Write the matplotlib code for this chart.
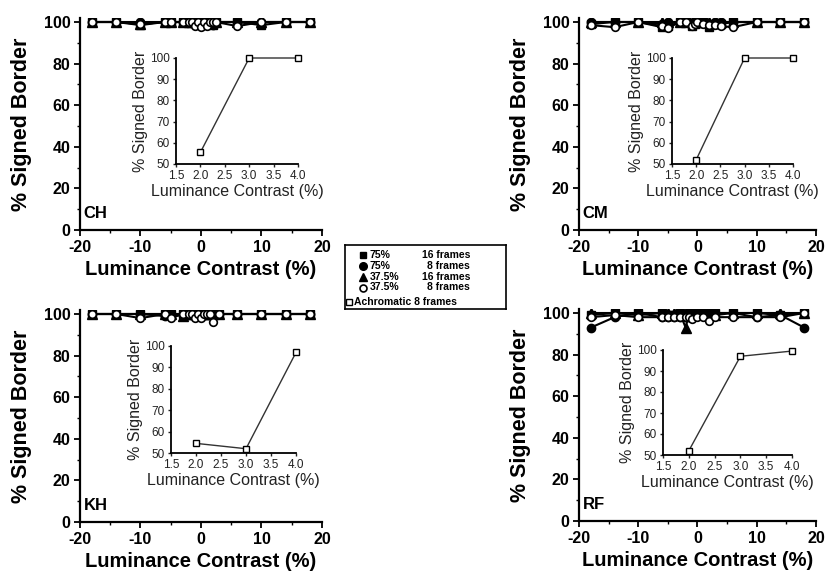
import matplotlib
matplotlib.use("Agg")
import matplotlib.pyplot as plt
from matplotlib.ticker import MultipleLocator

plt.rcParams['font.family'] = ['Liberation Sans', 'DejaVu Sans']
plt.rcParams['axes.unicode_minus'] = False

W, H = 828, 577

# ---------------- data ----------------
subjects = ["CH", "CM", "KH", "RF"]

ch_x = [-18, -14, -10, -6, -5, -3, -2, -1.5, -1, -0.5, 0, 0.5, 1, 1.5, 2, 2.5, 6, 10, 14, 18]
ch_sq16 = [100, 100, 98.5, 100, 100, 100, 100, 100, 100, 100, 99, 100, 100, 100, 98.5, 100, 100, 98.5, 100, 100]
ch_ci8 = [100, 100, 100, 100, 100, 100, 100, 100, 100, 100, 98.5, 100, 100, 100, 98.5, 100, 100, 100, 100, 100]
ch_tr16 = [100, 100, 99, 100, 100, 100, 100, 100, 100, 100, 100, 100, 100, 100, 100, 100, 100, 100, 100, 100]
ch_oc8 = [100, 100, 99, 100, 100, 100, 100, 100, 98, 100, 97.5, 100, 98, 100, 100, 100, 98, 100, 100, 100]

cm_x = [-18, -14, -10, -6, -5, -3, -2, -1, -0.5, 0, 1, 2, 3, 4, 6, 10, 14, 18]
cm_sq16 = [99, 100, 100, 97.5, 98, 100, 100, 98, 99, 100, 100, 97.5, 99, 99, 100, 100, 100, 100]
cm_ci8 = [100, 100, 100, 99, 100, 100, 100, 99, 100, 100, 100, 99, 100, 100, 100, 100, 100, 100]
cm_tr16 = [100, 100, 100, 100, 100, 100, 100, 100, 100, 100, 100, 100, 100, 100, 100, 100, 100, 100]
cm_oc8 = [98.5, 97.5, 100, 98, 97, 100, 100, 98, 99, 100, 99, 98.5, 98.5, 98, 97.5, 100, 100, 100]

kh_x = [-18, -14, -10, -6, -5, -3, -2, -1.5, -1, -0.5, 0, 0.5, 1, 1.5, 2, 3, 6, 10, 14, 18]
kh_sq16 = [100, 100, 100, 100, 100, 100, 100, 100, 100, 100, 100, 100, 100, 100, 100, 100, 100, 100, 100, 100]
kh_ci8 = [100, 100, 100, 99, 100, 100, 100, 100, 100, 100, 100, 100, 100, 100, 100, 100, 100, 100, 100, 100]
kh_tr16 = [100, 100, 100, 100, 100, 99, 100, 100, 100, 100, 100, 100, 100, 100, 100, 100, 100, 100, 100, 100]
kh_oc8 = [100, 100, 98, 100, 98, 100, 100, 100, 98, 100, 98, 100, 100, 100, 96, 100, 100, 100, 100, 100]

rf_x = [-18, -14, -10, -6, -5, -4, -3, -2, -1.5, -1, 0, 1, 2, 3, 6, 10, 14, 18]
rf_sq16 = [99, 100, 100, 100, 99, 99, 100, 98, 100, 100, 100, 100, 100, 100, 100, 100, 99, 100]
rf_ci8 = [93, 98, 100, 98, 98, 98, 98, 98, 98, 98, 99, 99, 99, 100, 100, 98, 99, 93]
rf_tr16 = [100, 100, 99, 100, 100, 100, 100, 93, 99, 100, 100, 100, 100, 99, 100, 100, 100, 100]
rf_oc8 = [98, 99, 98, 98, 98, 98, 98, 98, 98, 97, 98, 98, 96, 98, 98, 98, 98, 100]

# achromatic insets
ach_x = [2.0, 3.0, 4.0]
ch_ach = [55.5, 100, 100]
cm_ach = [52, 100, 100]
kh_ach = [54.5, 52, 97]
rf_ach = [52, 97, 99.5]

legend_labels = [("75%", "16 frames"), ("75%", "8 frames"),
                 ("37.5%", "16 frames"), ("37.5%", "8 frames")]
legend_extra = "Achromatic 8 frames"

main_xticks = [-20, -10, 0, 10, 20]
main_yticks = [0, 20, 40, 60, 80, 100]
inset_xticks = [1.5, 2.0, 2.5, 3.0, 3.5, 4.0]
inset_yticks = [50, 60, 70, 80, 90, 100]

panels = [
    (ch_x, ch_sq16, ch_ci8, ch_tr16, ch_oc8, ch_ach),
    (cm_x, cm_sq16, cm_ci8, cm_tr16, cm_oc8, cm_ach),
    (kh_x, kh_sq16, kh_ci8, kh_tr16, kh_oc8, kh_ach),
    (rf_x, rf_sq16, rf_ci8, rf_tr16, rf_oc8, rf_ach),
]

# ---------------- layout (pixels) ----------------
main_geo = [(80, 322, 230), (579, 816, 230), (80, 322, 522), (579, 816, 521)]
inset_geo = [(176, 298, 58, 164), (672, 793, 58, 164), (171, 296, 346, 453), (663, 792, 350, 455)]

fig = plt.figure(figsize=(W / 100, H / 100), dpi=100)


def px_axes(left, right, top, bottom):
    return fig.add_axes([left / W, 1 - bottom / H, (right - left) / W, (bottom - top) / H])


series_style = [
    dict(marker='s', mfc='black', mec='black', ms=5.5),
    dict(marker='o', mfc='black', mec='black', ms=6),
    dict(marker='^', mfc='black', mec='black', ms=6.5),
    dict(marker='o', mfc='white', mec='black', ms=5.5, mew=1.2),
]

for i, (geo, igeo, data, name) in enumerate(zip(main_geo, inset_geo, panels, subjects)):
    left, right, y0 = geo
    ymax = 102
    ppu = 2.08
    top = y0 - ymax * ppu
    ax = px_axes(left, right, top, y0)
    x = data[0]
    for ys, st in zip(data[1:5], series_style):
        ax.plot(x, ys, color='black', lw=1.5, zorder=3, **st)
    ax.set_xlim(-20, 20)
    ax.set_ylim(0, ymax)
    ax.set_xticks(main_xticks)
    ax.set_yticks(main_yticks)
    ax.xaxis.set_minor_locator(MultipleLocator(5))
    ax.yaxis.set_minor_locator(MultipleLocator(10))
    ax.tick_params(which='major', direction='out', length=4, width=1.3, labelsize=11.5, pad=3)
    ax.tick_params(which='minor', direction='out', length=2, width=1)
    for lab in ax.get_xticklabels() + ax.get_yticklabels():
        lab.set_fontweight('bold')
    for s in ['top', 'right']:
        ax.spines[s].set_visible(False)
    for s in ['left', 'bottom']:
        ax.spines[s].set_linewidth(1.6)
    ax.set_xlabel("Luminance Contrast (%)", fontsize=14.5, fontweight='bold', labelpad=4)
    ax.set_ylabel("% Signed Border", fontsize=15.5, fontweight='bold', labelpad=8)
    ax.text(0.015, 0.08, name, transform=ax.transAxes, fontsize=12, fontweight='bold',
            ha='left', va='center')

    il, ir, it, ib = igeo
    iax = px_axes(il, ir, it, ib)
    iax.plot(ach_x, data[5], color='#333333', lw=1.0, marker='s', mfc='white',
             mec='black', ms=5, mew=1.0, zorder=3, clip_on=False)
    iax.set_xlim(1.5, 4.0)
    iax.set_ylim(50, 100)
    iax.set_xticks(inset_xticks)
    iax.set_yticks(inset_yticks)
    iax.set_xticklabels([f"{v:.1f}" for v in inset_xticks])
    iax.tick_params(direction='out', length=2.5, width=1, labelsize=8.5, pad=2,
                    colors='#222222')
    for s in ['top', 'right']:
        iax.spines[s].set_visible(False)
    for s in ['left', 'bottom']:
        iax.spines[s].set_linewidth(1.3)
    iax.patch.set_alpha(0)
    iax.set_xlabel("Luminance Contrast (%)", fontsize=11.5, labelpad=1, color='#222222')
    iax.set_ylabel("% Signed Border", fontsize=11.5, labelpad=1, color='#222222')

# ---------------- legend ----------------
lax = px_axes(345, 506, 245, 309)
lax.set_xlim(0, 161)
lax.set_ylim(64, 0)
lax.set_xticks([])
lax.set_yticks([])
for s in lax.spines.values():
    s.set_linewidth(1.2)
rows_y = [9.5, 20.5, 31.5, 42.5]
for (pct, frames), st, ry in zip(legend_labels, series_style, rows_y):
    sty = dict(st)
    sty['ms'] = st['ms'] - 0.5
    lax.plot([18], [ry], linestyle='none', **sty)
    lax.text(25, ry, pct, fontsize=7.5, fontweight='bold', ha='left', va='center')
    lax.text(125, ry, frames, fontsize=7.5, fontweight='bold', ha='right', va='center')
lax.plot([4], [57], linestyle='none', marker='s', mfc='white', mec='black', ms=5, mew=1)
lax.text(9, 57, legend_extra, fontsize=7.5, fontweight='bold', ha='left', va='center')

fig.savefig("out.png", dpi=100)
